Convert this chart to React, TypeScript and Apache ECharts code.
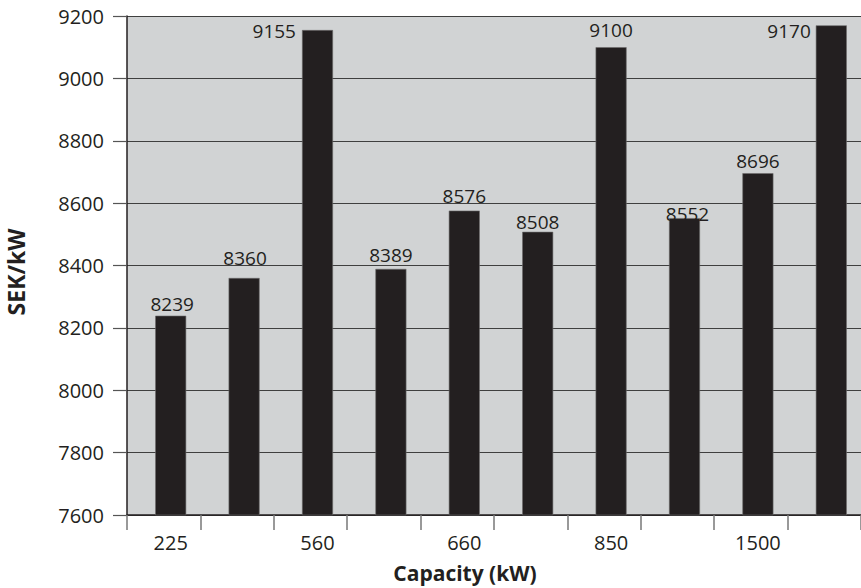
import React, { useEffect, useRef } from "react";
import * as echarts from "echarts";

const categories = ["225", "500", "560", "600", "660", "750", "850", "1000", "1500", "2000"];
const values = [8239, 8360, 9155, 8389, 8576, 8508, 9100, 8552, 8696, 9170];
const yTicks = { min: 7600, max: 9200, step: 200 };
const xTitle = "Capacity (kW)";
const yTitle = "SEK/kW";

// label placement tweaks per bar (layout only)
const labelTweaks: any[] = [
  { position: "top", distance: 2, offset: [1.5, 0] },
  { position: "top", distance: 10, offset: [1, 0] },
  { position: [-6, 1], align: "right", verticalAlign: "middle" },
  { position: "top", distance: 4, offset: [0, 0] },
  { position: "top", distance: 5, offset: [0, 0] },
  { position: "top", distance: 0, offset: [0, 0] },
  { position: "top", distance: 8, offset: [0, 0] },
  { position: "top", distance: 0, offset: [3, 5] },
  { position: "top", distance: 3, offset: [0, 0] },
  { position: [-5, 6], align: "right", verticalAlign: "middle" },
];

const FONT = "'Open Sans', 'Noto Sans', sans-serif";
const INK = "#231f20";

export default function App() {
  const ref = useRef<HTMLDivElement>(null);
  useEffect(() => {
    if (!ref.current) return;
    const chart = echarts.init(ref.current, undefined, { renderer: "svg" });
    chart.setOption({
      animation: false,
      backgroundColor: "#ffffff",
      grid: {
        left: 127,
        right: 0,
        top: 16,
        bottom: 73,
        show: true,
        backgroundColor: "#d1d3d4",
        borderWidth: 0,
        containLabel: false,
      },
      xAxis: {
        type: "category",
        data: categories,
        boundaryGap: true,
        axisLine: { show: true, lineStyle: { color: INK, width: 1.5 } },
        axisTick: { show: true, interval: 0, length: 15, alignWithLabel: false, lineStyle: { color: "#777", width: 1.5 } },
        axisLabel: {
          interval: 1,
          margin: 17,
          fontSize: 20,
          color: INK,
          fontFamily: FONT,
          padding: [0, 0, 0, 14],
        },
        splitLine: { show: false },
      },
      yAxis: {
        type: "value",
        min: yTicks.min,
        max: yTicks.max,
        interval: yTicks.step,
        axisLine: { show: true, lineStyle: { color: INK, width: 1.5 } },
        axisTick: { show: true, inside: false, length: 14, lineStyle: { color: "#555", width: 1.2 } },
        axisLabel: {
          margin: 23,
          fontSize: 20,
          color: INK,
          fontFamily: FONT,
          formatter: (v: number) => String(v),
        },
        splitLine: { show: true, lineStyle: { color: "#3f3f3f", width: 1.2 } },
      },
      graphic: [
        {
          type: "text",
          x: 465,
          y: 573,
          style: {
            text: xTitle,
            fontSize: 21,
            fontWeight: "bold",
            fontFamily: FONT,
            fill: INK,
            align: "center",
            verticalAlign: "middle",
          },
        },
        {
          type: "text",
          x: 16,
          y: 272,
          rotation: Math.PI / 2,
          style: {
            text: yTitle,
            fontSize: 23,
            fontWeight: "bold",
            fontFamily: FONT,
            fill: INK,
            align: "center",
            verticalAlign: "middle",
          },
        },
      ],
      series: [
        {
          type: "bar",
          name: "spacer",
          data: categories.map(() => null),
          barWidth: 14,
          barGap: "0%",
          silent: true,
          itemStyle: { color: "transparent" },
        },
        {
          type: "bar",
          name: "SEK/kW",
          barWidth: 31,
          barGap: "0%",
          itemStyle: { color: INK, borderColor: "#6d6b6c", borderWidth: 0.6 },
          label: {
            show: true,
            fontSize: 19,
            color: INK,
            fontFamily: FONT,
          },
          data: values.map((v, i) => ({
            value: v,
            label: labelTweaks[i],
          })),
        },
      ],
    });
    return () => chart.dispose();
  }, []);
  return (
    <div
      ref={ref}
      style={{ position: "fixed", left: 0, top: 0, width: 861, height: 588 }}
    />
  );
}
